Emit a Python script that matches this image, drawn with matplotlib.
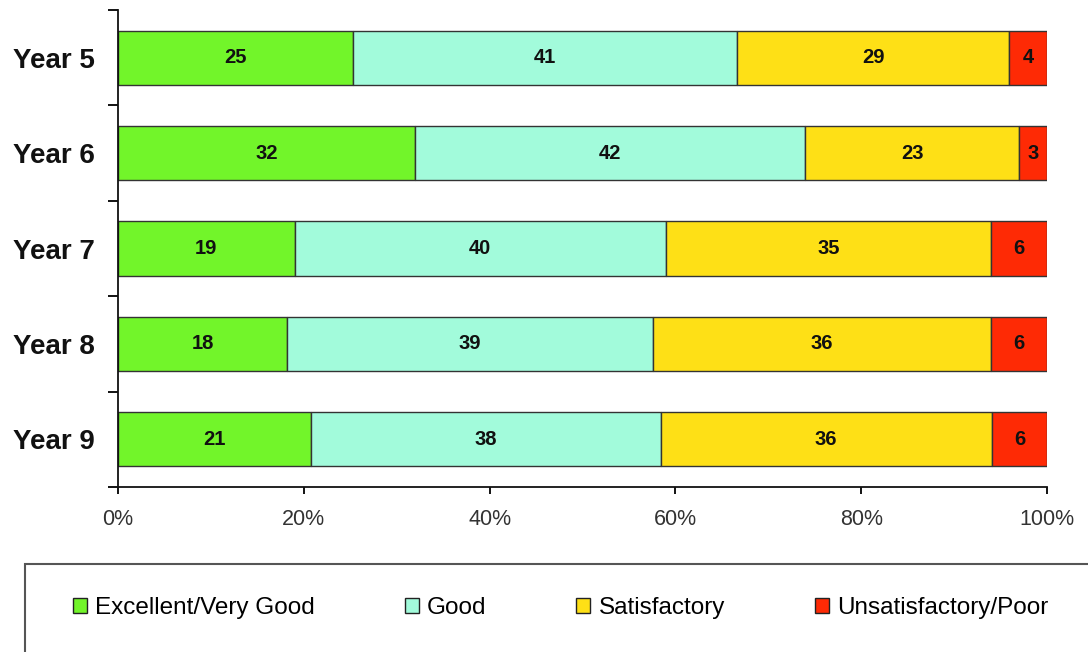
import numpy as np
from matplotlib import pyplot as plt
from matplotlib.patches import Rectangle

plt.rcParams['font.family'] = ['Liberation Sans', 'DejaVu Sans']

years = ["Year 5", "Year 6", "Year 7", "Year 8", "Year 9"]
excellent = [25, 32, 19, 18, 21]
good = [41, 42, 40, 39, 38]
satisfactory = [29, 23, 35, 36, 36]
poor = [4, 3, 6, 6, 6]

series = ["Excellent/Very Good", "Good", "Satisfactory", "Unsatisfactory/Poor"]
colors = ["#72F52A", "#A2FBDB", "#FEE016", "#FE2A05"]

vals = np.array([excellent, good, satisfactory, poor], dtype=float)
totals = vals.sum(axis=0)
pct = vals / totals * 100.

fig = plt.figure(figsize=(10.88, 6.52), dpi=100)
ax = fig.add_axes([118/1088, 1 - 487/652, 929/1088, 477/652])

y = np.arange(len(years))
left = np.zeros(len(years))
for k in range(len(series)):
    ax.barh(y, pct[k], left=left, height=0.57, color=colors[k],
            edgecolor="#333333", linewidth=1.0, label=series[k])
    for i in range(len(years)):
        ax.text(left[i] + pct[k][i]/2., y[i], "%d" % vals[k][i],
                ha="center", va="center", fontsize=14.5, fontweight="bold",
                color="#111111")
    left += pct[k]

ax.set_xlim(0, 100)
ax.set_ylim(len(years) - 0.5, -0.5)
ax.set_xticks(np.arange(0, 101, 20))
ax.set_xticklabels(["%d%%" % v for v in range(0, 101, 20)], fontsize=15.5,
                   color="#333333")
ax.set_yticks(y)
ax.set_yticklabels(years, fontsize=20, fontweight="bold", color="#111111")
ax.set_yticks(np.arange(-0.5, len(years)), minor=True)
ax.tick_params(axis="y", which="major", length=0, pad=17)
ax.tick_params(axis="y", which="minor", length=7, width=1.3, direction="out")
ax.tick_params(axis="x", length=5, width=1.3, pad=11)
for s in ["top", "right"]:
    ax.spines[s].set_visible(False)
for s in ["left", "bottom"]:
    ax.spines[s].set_linewidth(1.3)
    ax.spines[s].set_color("#111111")

# legend box, running past the figure edges
fig.add_artist(Rectangle((25/1088, -0.2), 2, 1 - 564/652 + 0.2,
                         transform=fig.transFigure, fill=False,
                         edgecolor="#555555", linewidth=1.5))

handles, labels = ax.get_legend_handles_labels()
leg = fig.legend(handles, labels, ncol=4, loc="center left",
                 bbox_to_anchor=(73/1088, 1 - 608/652), frameon=False,
                 fontsize=17.5, handlelength=0.58, handleheight=0.58,
                 handletextpad=0.33, columnspacing=3.7, borderpad=0,
                 borderaxespad=0)
for h in leg.legend_handles:
    h.set_edgecolor("#222222")

plt.savefig("out.png", dpi=100)
